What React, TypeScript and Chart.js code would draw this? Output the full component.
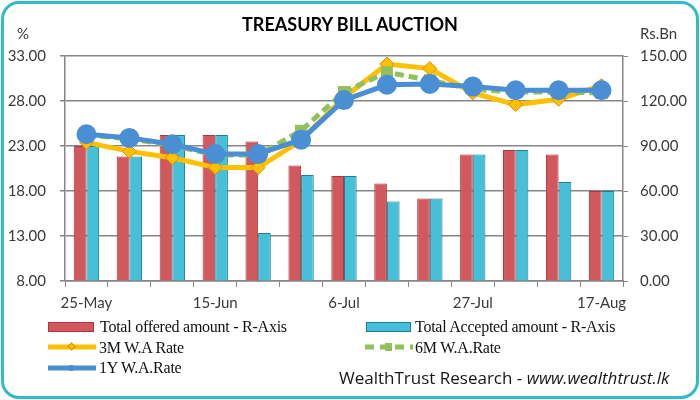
import React, { useEffect, useRef } from 'react';
import { Chart, registerables } from 'chart.js';

Chart.register(...registerables);

const categories = ['25-May', '1-Jun', '8-Jun', '15-Jun', '22-Jun', '29-Jun', '6-Jul', '13-Jul', '20-Jul', '27-Jul', '3-Aug', '10-Aug', '17-Aug'];
const offered = [90, 83, 97.3, 97.3, 93, 77, 70, 65, 55, 84.4, 87.3, 84.4, 60];
const accepted = [90, 83, 97.3, 97.3, 32, 70.7, 70, 53, 55, 84.4, 87.3, 66, 60];
const rate3M = [23.4, 22.4, 21.7, 20.6, 20.6, 23.6, 28.4, 32.1, 31.6, 28.9, 27.6, 28.2, 29.7];
const rate6M = [24.2, 23.8, 23.1, 22.0, 22.0, 24.7, 29.0, 31.2, 30.3, 29.3, 29.0, 29.0, 28.9];
const rate1Y = [24.3, 23.9, 23.2, 22.1, 22.1, 23.7, 28.1, 29.8, 29.9, 29.6, 29.2, 29.2, 29.2];
const leftTicks = { min: 8, max: 33, step: 5 };
const rightTicks = { min: 0, max: 150, step: 30 };

const RED = '#d1595e';
const RED_B = '#b2343c';
const CYAN = '#46bfd8';
const CYAN_B = '#1d7f90';
const YELLOW = '#ffc000';
const YELLOW_B = '#e08a00';
const GREEN = '#92c05a';
const BLUE = '#4a8fd3';
const AXIS = '#868686';
const TXT = '#3a3a3a';

export default function App() {
  const ref = useRef<HTMLCanvasElement>(null);
  useEffect(() => {
    document.body.style.margin = '0';
    const tickFont = { family: 'Lato', size: 15 };
    const chart = new Chart(ref.current!, {
      type: 'bar',
      data: {
        labels: categories,
        datasets: [
          {
            type: 'line', label: '1Y W.A.Rate', data: rate1Y, yAxisID: 'y', order: 0,
            borderColor: BLUE, borderWidth: 5, backgroundColor: BLUE,
            pointStyle: 'circle', pointRadius: 7.5, pointBorderColor: BLUE, pointBackgroundColor: BLUE,
            tension: 0,
          },
          {
            type: 'line', label: '6M W.A.Rate', data: rate6M, yAxisID: 'y', order: 1,
            borderColor: GREEN, borderWidth: 5, borderDash: [9, 5], backgroundColor: GREEN,
            pointStyle: 'rect', pointRadius: 5, pointBorderColor: GREEN, pointBackgroundColor: GREEN,
            tension: 0,
          },
          {
            type: 'line', label: '3M W.A Rate', data: rate3M, yAxisID: 'y', order: 2,
            borderColor: YELLOW, borderWidth: 5, backgroundColor: YELLOW,
            pointStyle: 'rectRot', pointRadius: 7, pointBorderColor: YELLOW_B, pointBorderWidth: 1, pointBackgroundColor: YELLOW,
            tension: 0,
          },
          {
            type: 'bar', label: 'Total offered amount - R-Axis', data: offered, yAxisID: 'y1', order: 3,
            backgroundColor: RED, borderColor: RED_B, borderWidth: 1,
            categoryPercentage: 0.59, barPercentage: 1,
          },
          {
            type: 'bar', label: 'Total Accepted amount - R-Axis', data: accepted, yAxisID: 'y1', order: 3,
            backgroundColor: CYAN, borderColor: CYAN_B, borderWidth: 1,
            categoryPercentage: 0.59, barPercentage: 1,
          },
        ],
      } as any,
      options: {
        animation: false,
        responsive: false,
        layout: { padding: { top: 56, bottom: 89, left: 0, right: 0 } },
        plugins: { legend: { display: false }, tooltip: { enabled: false }, title: { display: false } },
        scales: {
          x: {
            grid: { offset: true, drawOnChartArea: false, drawTicks: true, tickLength: 6, color: AXIS },
            border: { color: AXIS, width: 1.5 },
            ticks: {
              autoSkip: false, maxRotation: 0, minRotation: 0, padding: 7,
              font: tickFont, color: TXT,
              callback: (_v: any, i: number) => (i % 3 === 0 ? categories[i] : ''),
            },
            afterFit: (s: any) => { s.height = 30; },
          },
          y: {
            position: 'left', min: leftTicks.min, max: leftTicks.max,
            grid: { color: AXIS, lineWidth: 1.5, tickLength: 5 },
            border: { color: AXIS, width: 1.5 },
            ticks: { stepSize: leftTicks.step, padding: 14, font: tickFont, color: TXT, callback: (v: any) => Number(v).toFixed(2) },
            afterFit: (s: any) => { s.width = 65; },
          },
          y1: {
            position: 'right', min: rightTicks.min, max: rightTicks.max,
            grid: { drawOnChartArea: false, color: AXIS, tickLength: 5 },
            border: { color: AXIS, width: 1.5 },
            ticks: { stepSize: rightTicks.step, padding: 12, font: tickFont, color: TXT, callback: (v: any) => Number(v).toFixed(2) },
            afterFit: (s: any) => { s.width = 77; },
          },
        },
      } as any,
    });
    return () => chart.destroy();
  }, []);

  const serif: React.CSSProperties = { position: 'absolute', fontFamily: '"Liberation Serif", serif', fontSize: 16, letterSpacing: -0.25, color: '#111', whiteSpace: 'nowrap', lineHeight: '16px' };

  return (
    <div style={{ position: 'relative', width: 700, height: 400, background: '#fff', overflow: 'hidden' }}>
      <canvas ref={ref} width={700} height={400} style={{ position: 'absolute', left: 0, top: 0, width: 700, height: 400 }} />
      <div style={{ position: 'absolute', left: 1, top: 1, width: 698, height: 398, boxSizing: 'border-box', border: '3px solid #34b8cb', borderRadius: 18, pointerEvents: 'none' }} />
      <div style={{ position: 'absolute', left: 0, width: 700, top: 13, textAlign: 'center', fontFamily: 'Lato', fontWeight: 'bold', fontSize: 18, color: '#000' }}>TREASURY BILL AUCTION</div>
      <div style={{ position: 'absolute', left: 17, top: 24, fontFamily: 'Lato', fontSize: 15, color: TXT }}>%</div>
      <div style={{ position: 'absolute', left: 640, top: 24, fontFamily: 'Lato', fontSize: 15, color: TXT }}>Rs.Bn</div>

      <div style={{ position: 'absolute', left: 48, top: 322, width: 46, height: 10, boxSizing: 'border-box', background: RED, border: `1px solid ${RED_B}` }} />
      <div style={{ ...serif, left: 100, top: 319 }}>Total offered amount - R-Axis</div>
      <div style={{ position: 'absolute', left: 366, top: 322, width: 45, height: 10, boxSizing: 'border-box', background: CYAN, border: `1px solid ${CYAN_B}` }} />
      <div style={{ ...serif, left: 415, top: 319 }}>Total Accepted amount - R-Axis</div>

      <svg style={{ position: 'absolute', left: 46, top: 340 }} width={52} height={14}>
        <line x1={2} y1={7} x2={50} y2={7} stroke={YELLOW} strokeWidth={5} />
        <rect x={23} y={4} width={5} height={5} fill={YELLOW} stroke={YELLOW_B} strokeWidth={1} transform="rotate(45 25.5 6.5)" />
      </svg>
      <div style={{ ...serif, left: 99, top: 340 }}>3M W.A Rate</div>
      <svg style={{ position: 'absolute', left: 363, top: 340 }} width={52} height={14}>
        <line x1={2} y1={7} x2={50} y2={7} stroke={GREEN} strokeWidth={5} strokeDasharray="9 6" />
        <rect x={22} y={3} width={7} height={8} fill={GREEN} />
      </svg>
      <div style={{ ...serif, left: 415, top: 340 }}>6M W.A.Rate</div>

      <svg style={{ position: 'absolute', left: 46, top: 361 }} width={52} height={14}>
        <line x1={2} y1={7} x2={50} y2={7} stroke={BLUE} strokeWidth={5} />
        <circle cx={25.5} cy={7} r={3} fill={BLUE} />
      </svg>
      <div style={{ ...serif, left: 99, top: 360 }}>1Y W.A.Rate</div>

      <div style={{ position: 'absolute', left: 339, top: 367, fontFamily: '"Open Sans"', fontSize: 17, lineHeight: '22px', color: '#151515', whiteSpace: 'nowrap' }}>
        WealthTrust Research - <span style={{ fontStyle: 'italic' }}>www.wealthtrust.lk</span>
      </div>
    </div>
  );
}
